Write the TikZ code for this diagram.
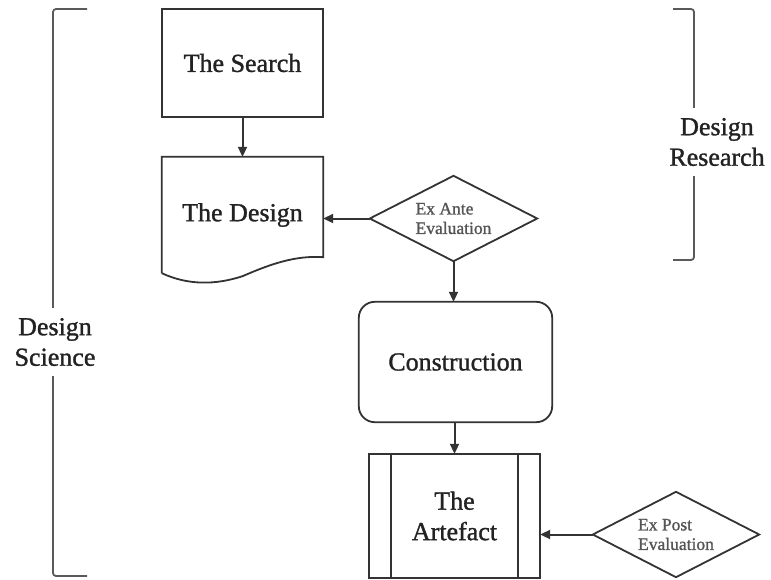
\documentclass[tikz,border=0pt]{standalone}
\usepackage{fontspec}
\setmainfont{Liberation Serif}[RawFeature={embolden=1.2}]
\usetikzlibrary{arrows.meta,calc}
\definecolor{inkline}{HTML}{333333}
\definecolor{inktext}{HTML}{222222}
\definecolor{bracketgray}{HTML}{5A5A5A}
\definecolor{smallgray}{HTML}{555555}
\tikzset{
  shapebox/.style={draw=none,inner sep=0pt,text=inktext,align=center,
    font=\fontsize{26}{30.5}\selectfont},
  decisionbox/.style={draw=none,inner sep=0pt,text=smallgray,align=left,
    font=\fontsize{17.5}{19.5}\selectfont},
  outline/.style={draw=inkline,line width=1.8pt,line join=miter},
  flowarrow/.style={draw=inkline,line width=2pt,
    -{Triangle[length=10pt,width=9pt]}},
  bracketline/.style={draw=bracketgray,line width=1.8pt,rounded corners=3pt},
  bracketlabel/.style={fill=white,inner xsep=6pt,inner ysep=10pt,text=inktext,
    align=center,font=\fontsize{26}{30.5}\selectfont},
}
\begin{document}
\begin{tikzpicture}[x=1pt,y=-1pt]
\useasboundingbox (0,0) rectangle (771,579);

% brackets grouping the stages
\draw[bracketline] (87,9) -- (53,9) -- (53,576) -- (87,576);
\draw[bracketline] (673,9) -- (694,9) -- (694,260) -- (673,260);
\node[bracketlabel] (science) at (55,342) {Design\\Science};
\node[bracketlabel] (research) at (717,142) {Design\\Research};

% process: the search
\node[shapebox,minimum width=161pt,minimum height=108pt] (search) at (242.5,63) {The Search};
\draw[outline] (search.north west) rectangle (search.south east);

% document: the design
\node[shapebox,minimum width=161pt,minimum height=116pt] (design) at (242.5,215) {\raisebox{3pt}{The Design}};
\draw[outline] (design.south west) -- (design.north west) -- (design.north east)
  -- ($(design.south east)+(0,-16)$)
  .. controls ($(design.south east)+(-28,-18)$) and ($(design.south east)+(-53,-9)$) .. ($(design.south)+(0,3)$)
  .. controls ($(design.south west)+(53,12)$) and ($(design.south west)+(26,12)$) .. (design.south west);

% decision: ex ante evaluation
\node[decisionbox,minimum width=167pt,minimum height=85pt] (exante) at (453.5,218.5) {Ex Ante\\Evaluation};
\draw[outline] (exante.west) -- (exante.north) -- (exante.east) -- (exante.south) -- cycle;

% terminal: construction
\node[shapebox,minimum width=193pt,minimum height=120pt] (constr) at (455.5,362) {Construction};
\draw[outline,rounded corners=16pt] (constr.north west) rectangle (constr.south east);

% predefined process: the artefact
\node[shapebox,minimum width=171pt,minimum height=124pt] (artefact) at (454.5,516) {The\\Artefact};
\draw[outline] (artefact.north west) rectangle (artefact.south east);
\draw[outline] ($(artefact.north west)+(22,0)$) -- ($(artefact.south west)+(22,0)$);
\draw[outline] ($(artefact.north east)+(-22,0)$) -- ($(artefact.south east)+(-22,0)$);

% decision: ex post evaluation
\node[decisionbox,minimum width=166pt,minimum height=85pt] (expost) at (676,534.5) {Ex Post\\Evaluation};
\draw[outline] (expost.west) -- (expost.north) -- (expost.east) -- (expost.south) -- cycle;

% connectors
\draw[flowarrow] (search.south) -- (design.north);
\draw[flowarrow] (exante.west) -- (design.east |- exante.west);
\draw[flowarrow] (exante.south) -- (exante.south |- constr.north);
\draw[flowarrow] (artefact.north |- constr.south) -- (artefact.north);
\draw[flowarrow] (expost.west) -- (artefact.east |- expost.west);
\end{tikzpicture}
\end{document}
